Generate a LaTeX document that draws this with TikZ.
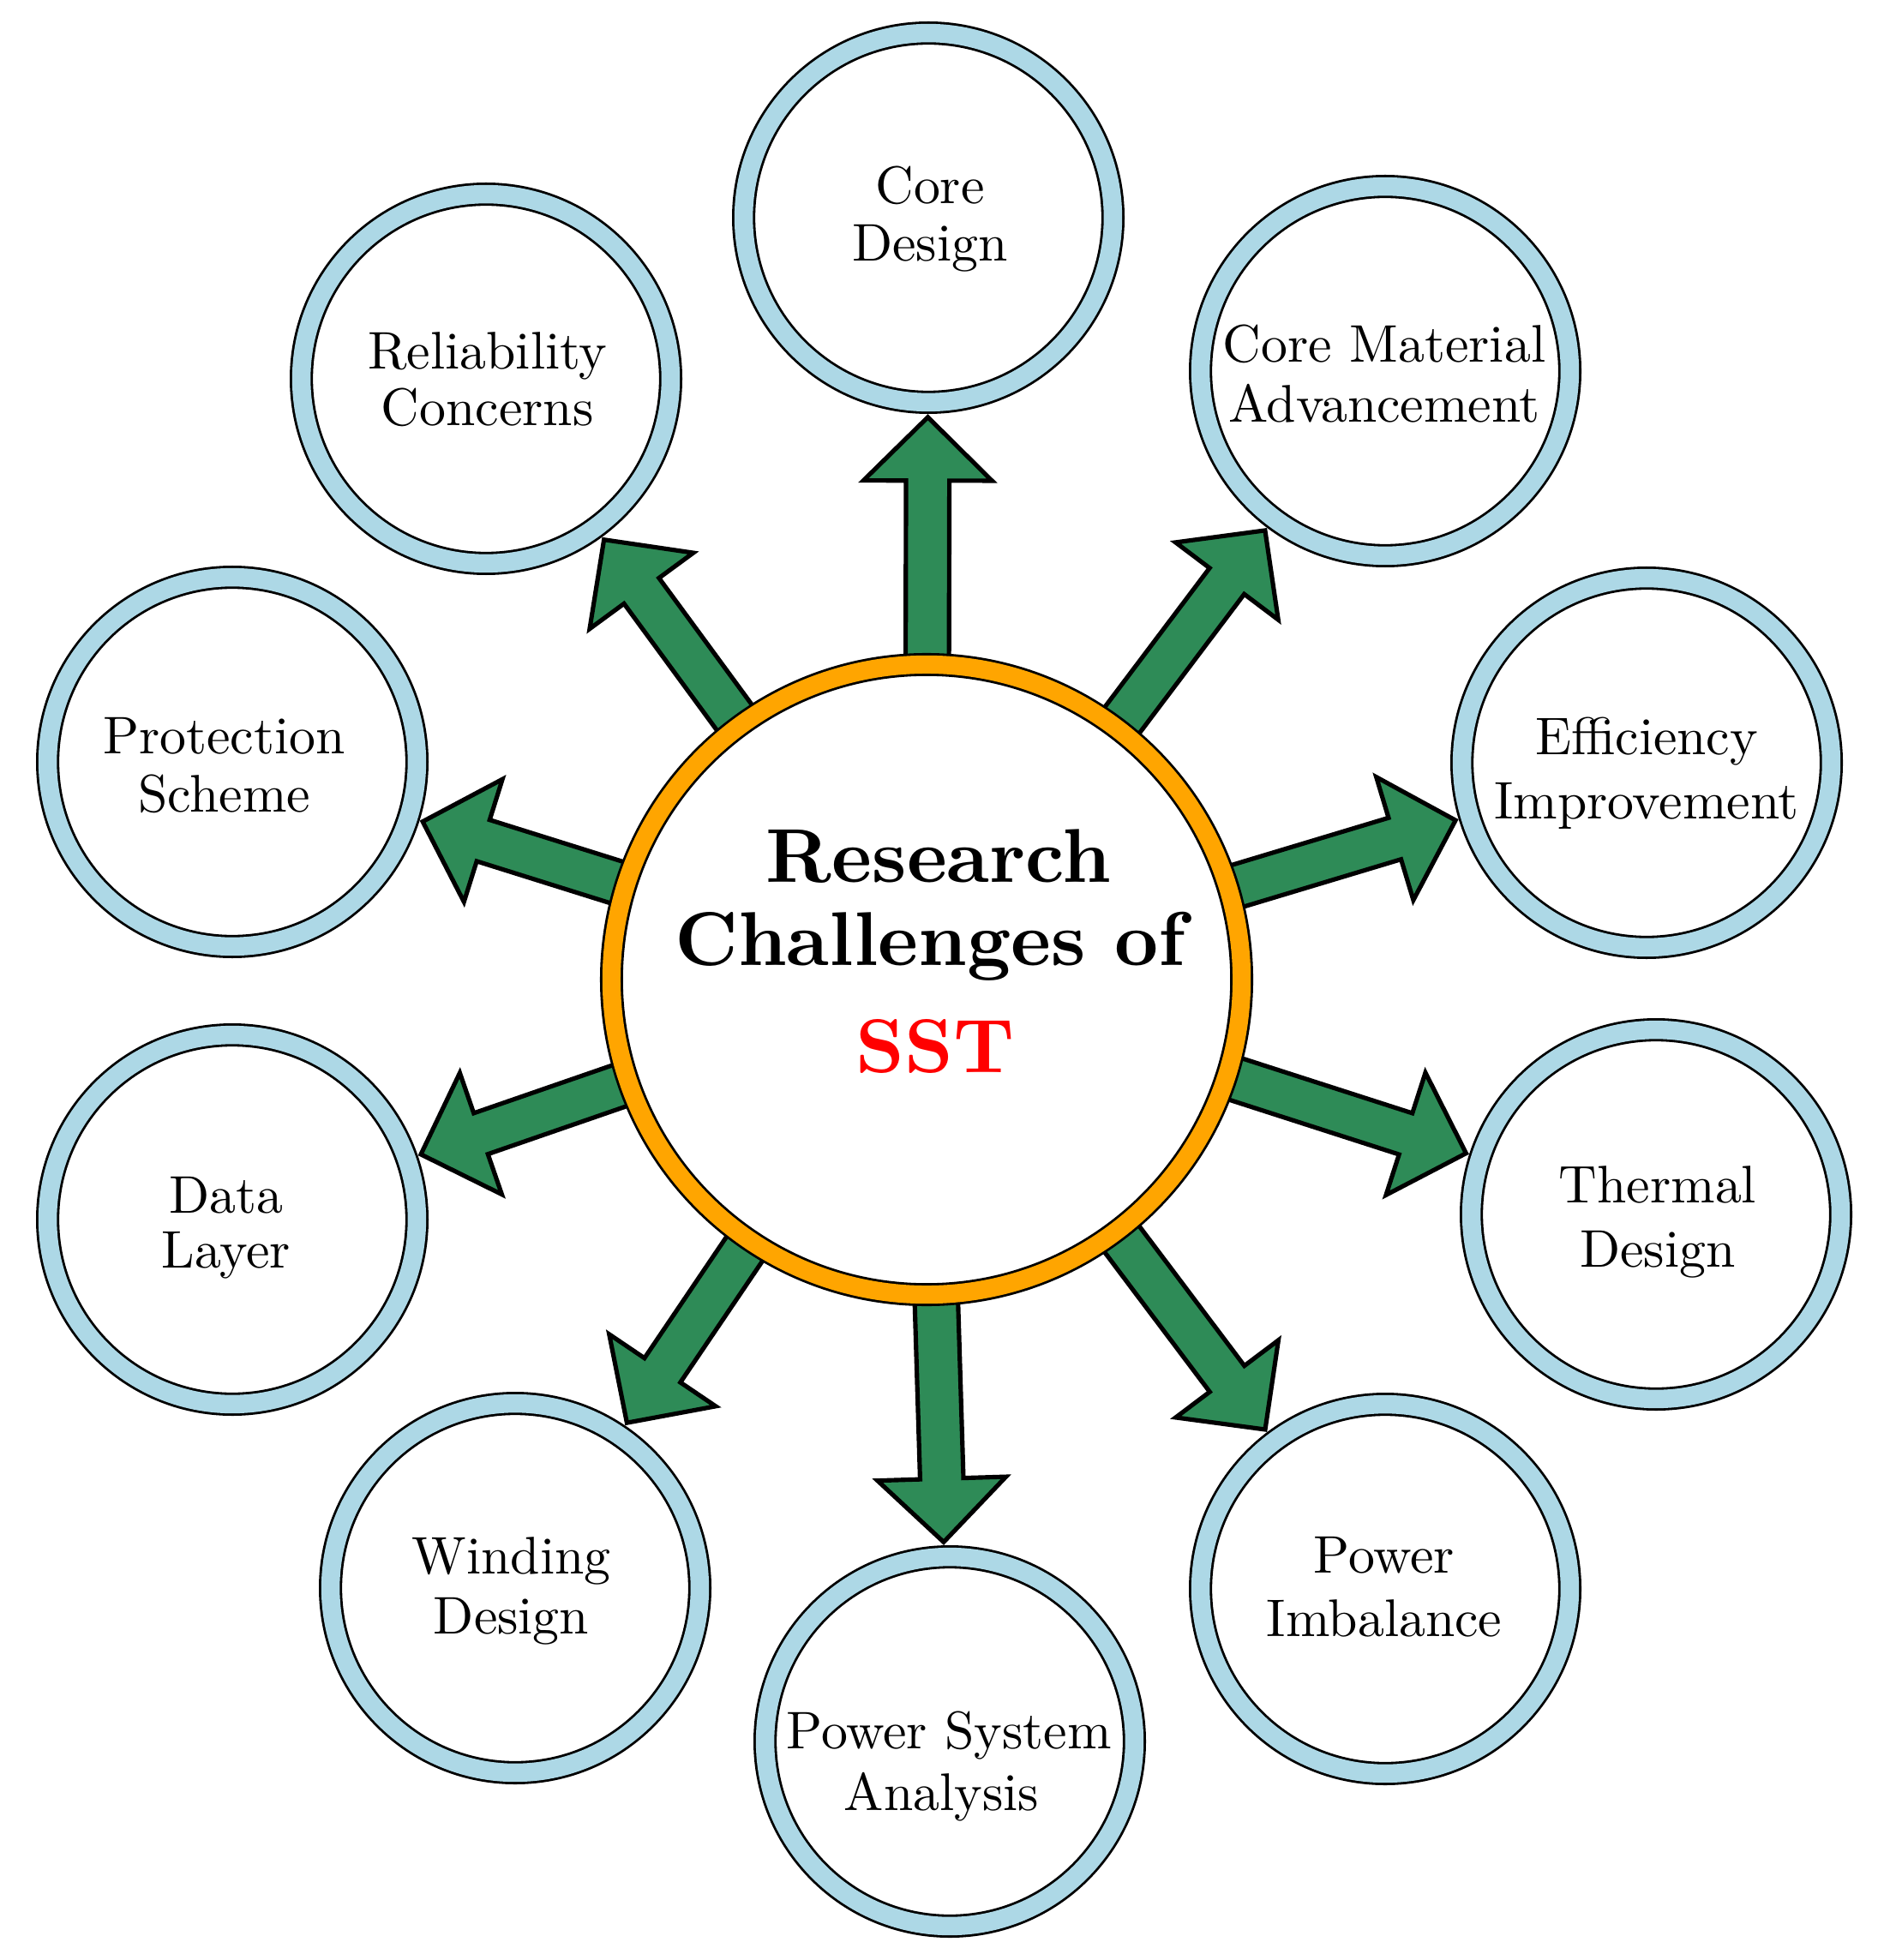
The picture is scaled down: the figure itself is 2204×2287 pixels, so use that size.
\documentclass[tikz,border=0pt]{standalone}
\usetikzlibrary{calc}
\DeclareFontFamily{TU}{lmrten}{}
\DeclareFontShape{TU}{lmrten}{m}{n}{<-> \UnicodeFontFile{lmroman10-regular}{\UnicodeFontTeXLigatures}}{}
\DeclareFontShape{TU}{lmrten}{b}{n}{<-> \UnicodeFontFile{lmroman10-bold}{\UnicodeFontTeXLigatures}}{}
\DeclareFontShape{TU}{lmrten}{bx}{n}{<-> \UnicodeFontFile{lmroman10-bold}{\UnicodeFontTeXLigatures}}{}
\definecolor{ringblue}{RGB}{173,216,230}
\definecolor{ringorange}{RGB}{255,165,0}
\definecolor{arrowgreen}{RGB}{46,139,87}
\definecolor{sstred}{RGB}{255,0,0}
\pgfdeclarelayer{bg}
\pgfsetlayers{bg,main}
\tikzset{
  sat/.style={circle, draw=black, line width=0.55pt, double=ringblue, double distance=4.17pt,
              fill=white, minimum size=83.66pt, inner sep=0pt},
  hubnode/.style={circle, draw=black, line width=0.55pt, double=ringorange, double distance=4.11pt,
              fill=white, minimum size=142.76pt, inner sep=0pt},
  arrowshape/.style={draw=black, fill=arrowgreen, line width=1pt, line join=miter},
  sattext/.style={align=center, font=\fontfamily{lmrten}\fontsize{12}{14}\selectfont, inner sep=0pt},
  hubtext/.style={align=center, font=\fontfamily{lmrten}\fontsize{17.28}{18.82}\selectfont\bfseries, inner sep=0pt}
}
\newcommand\sstarrow[1]{%
  \path ($(hub)!71.85pt!(#1)$) coordinate (at#1)
        ($(#1)!59.57pt!(hub)$) coordinate (ah#1)
        ($(#1)!45.2pt!(hub)$) coordinate (ap#1);
  \draw[arrowshape] ($(at#1)!4.91pt!90:(ah#1)$) -- ($(ah#1)!4.91pt!-90:(at#1)$)
    -- ($(ah#1)!14.56pt!-90:(at#1)$) -- (ap#1) -- ($(ah#1)!14.56pt!90:(at#1)$)
    -- ($(ah#1)!4.91pt!90:(at#1)$) -- ($(at#1)!4.91pt!-90:(ah#1)$) -- cycle;
}
\begin{document}
\begin{tikzpicture}[x=0.194175pt, y=-0.194175pt]
\useasboundingbox (0,0) rectangle (2204,2287);

% central node
\node[hubnode] (hub) at (1081,1143) {};
\node[hubtext] (title) at (1091,1110.1) {\rule{1.6pt}{0pt}Research\\Challenges of\rule{2.3pt}{0pt}\\[5.35pt]\textcolor{sstred}{SST}};

% satellites
\node[sat] (s1) at (1083,254) {};
\node[sat] (s2) at (1616,433) {};
\node[sat] (s3) at (1921,890) {};
\node[sat] (s4) at (1932,1417) {};
\node[sat] (s5) at (1616,1854) {};
\node[sat] (s6) at (1108,2032) {};
\node[sat] (s7) at (601,1853) {};
\node[sat] (s8) at (271,1423) {};
\node[sat] (s9) at (271,889) {};
\node[sat] (s10) at (567,442) {};

\node[sattext] (t1) at (1085,255.9) {Core\\[-1.05pt]Design};
\node[sattext] (t2) at (1615,436.3) {Core Material\\[-0.41pt]Advancement};
\node[sattext] (t3) at (1921,902) {Efficiency\\[0.56pt]Improvement};
\node[sattext] (t4) at (1934,1426) {Thermal\\[0.56pt]Design};
\node[sattext] (t5) at (1615,1851.8) {Power\\[0.43pt]Imbalance};
\node[sattext] (t6) at (1107.3,2060.9) {Power System\\Analysis\rule{3.4pt}{0pt}};
\node[sattext] (t7) at (596.5,1856.5) {Winding\\[-0.28pt]Design};
\node[sattext] (t8) at (263.6,1432.4) {Data\\[-1.51pt]Layer};
\node[sattext] (t9) at (261.5,893.4) {Protection\\[-0.86pt]Scheme};
\node[sattext] (t10) at (568.8,442.7) {Reliability\\[-1.25pt]Concerns};

% arrows behind the circles
\begin{pgfonlayer}{bg}
\sstarrow{s1}
\sstarrow{s2}
\sstarrow{s3}
\sstarrow{s4}
\sstarrow{s5}
\sstarrow{s6}
\sstarrow{s7}
\sstarrow{s8}
\sstarrow{s9}
\sstarrow{s10}
\end{pgfonlayer}
\end{tikzpicture}
\end{document}
